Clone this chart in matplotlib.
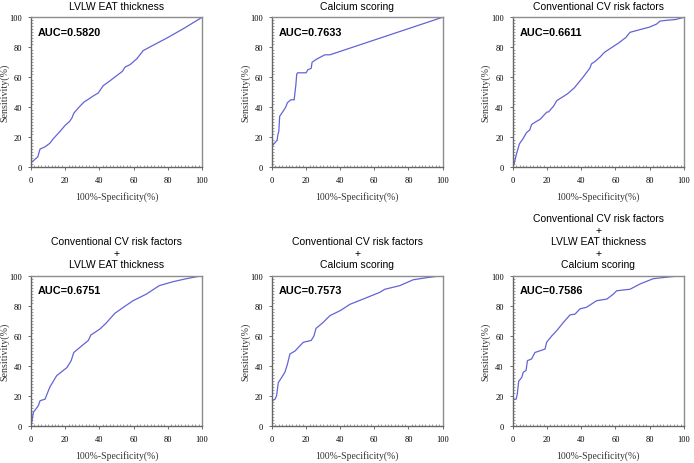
import matplotlib
matplotlib.use("Agg")
import matplotlib.pyplot as plt
from matplotlib.ticker import MultipleLocator

titles = [
    "LVLW EAT thickness",
    "Calcium scoring",
    "Conventional CV risk factors",
    "Conventional CV risk factors\n+\nLVLW EAT thickness",
    "Conventional CV risk factors\n+\nCalcium scoring",
    "Conventional CV risk factors\n+\nLVLW EAT thickness\n+\nCalcium scoring",
]
auc_labels = ["AUC=0.5820", "AUC=0.7633", "AUC=0.6611", "AUC=0.6751", "AUC=0.7573", "AUC=0.7586"]

fpr_1 = [0, 0, 2, 4, 5.3, 8, 11, 13, 17, 20, 22.5, 24, 25, 28, 31, 34.4, 37, 39.3, 42.2, 46, 50, 53.5, 54.9, 58, 62, 65.6, 70, 80, 90, 100]
tpr_1 = [0, 3, 5, 7, 12.2, 13.5, 16, 19, 24, 28, 30.5, 33, 36, 40, 43.5, 46, 48, 49.5, 54.4, 57.5, 61, 64, 66.7, 68.5, 72.5, 77.8, 80.5, 86.5, 93, 100]

fpr_2 = [0, 0, 1, 3, 3.5, 4, 4.5, 6, 8, 9, 11, 13, 13.5, 14, 14.5, 15, 20, 21, 23, 23.5, 26, 31, 34, 100]
tpr_2 = [0, 14, 15.5, 18, 22, 24, 34, 36.5, 40, 43, 45, 45, 50, 55, 62, 63, 63, 65, 66, 70, 72, 75, 75, 100]

fpr_3 = [0, 1, 2, 3.9, 6, 8, 10, 11, 13, 16, 19.8, 21, 24, 25.7, 32, 36, 41, 43, 45, 46, 48, 51, 53, 54, 58, 62, 66, 68.5, 75, 80, 84, 86, 90, 95, 100]
tpr_3 = [0, 3, 8, 15.6, 19, 23, 25, 28.5, 30, 32, 36.7, 37, 41, 44.4, 49, 53, 60, 63, 66, 69, 70.5, 73.5, 76, 77, 80, 83, 86.5, 90, 92, 93.5, 95.5, 97.5, 98, 98.5, 100]

fpr_4 = [0, 0.4, 1.4, 4.3, 5.3, 8.2, 11, 15, 21, 23.5, 25, 28.6, 33.5, 35, 40.3, 44, 49, 54, 59.7, 67.5, 75, 83, 90.8, 100]
tpr_4 = [0, 2.6, 9.3, 13.7, 17, 18, 26, 33.6, 39, 43.6, 49, 52.4, 57, 60.6, 64.6, 68.6, 75, 79, 83.4, 87.8, 93.4, 96, 98, 100]

fpr_5 = [0, 0.2, 1.8, 2.7, 3.7, 5.7, 7.6, 9, 10.5, 13.5, 16.4, 18.4, 23, 24.6, 25.8, 30, 34, 40, 45.7, 53.5, 63.3, 66.2, 75, 82.8, 92.6, 100]
tpr_5 = [0, 17, 18, 20.4, 29, 32.5, 36, 41, 48, 50, 53.5, 55.8, 57, 60, 65, 69, 73.5, 76.8, 81, 84.5, 89, 91, 93.4, 97.3, 99, 100]

fpr_6 = [0, 0.4, 2, 2.7, 3.5, 5.3, 6.2, 7.8, 8.6, 11, 13, 18.9, 19.8, 22.8, 25.7, 29.6, 33.5, 36.4, 39.3, 43, 49, 55, 58.8, 60.7, 68.5, 74.3, 82, 92, 100]
tpr_6 = [0, 18, 18, 21.5, 30, 32.5, 36, 37, 43.6, 44.7, 49, 51.3, 55.8, 60, 63.5, 69, 74, 74.5, 78, 79, 83.4, 84.5, 87.8, 90, 91, 94.5, 98, 99.3, 100]

fprs = [fpr_1, fpr_2, fpr_3, fpr_4, fpr_5, fpr_6]
tprs = [tpr_1, tpr_2, tpr_3, tpr_4, tpr_5, tpr_6]

W, H = 694, 464
fig = plt.figure(figsize=(W / 100, H / 100), dpi=100)

col_left = [31, 272, 512.7]
col_w = [171, 170.5, 171.3]
row_top = [18.3, 276.7]
row_h = [150, 150.6]

serif = ["Liberation Serif", "DejaVu Serif"]
sans = ["Liberation Sans", "DejaVu Sans"]
line_color = "#6363d6"
spine_color = "#8c8c8c"

for i in range(6):
    r, c = divmod(i, 3)
    left = col_left[c] / W
    bottom = 1 - (row_top[r] + row_h[r]) / H
    ax = fig.add_axes([left, bottom, col_w[c] / W, row_h[r] / H])
    ax.plot(fprs[i], tprs[i], color=line_color, lw=0.9)
    ax.set_xlim(0, 100)
    ax.set_ylim(0, 100)
    ax.xaxis.set_major_locator(MultipleLocator(20))
    ax.yaxis.set_major_locator(MultipleLocator(20))
    ax.xaxis.set_minor_locator(MultipleLocator(2))
    ax.yaxis.set_minor_locator(MultipleLocator(2))
    ax.tick_params(which="major", direction="out", length=2.5, width=0.6,
                   color="#555555", pad=4, labelsize=6)
    ax.tick_params(which="minor", direction="in", length=1.5, width=0.5, color="#777777")
    for lab in ax.get_xticklabels() + ax.get_yticklabels():
        lab.set_fontfamily(serif)
    for s in ax.spines.values():
        s.set_color(spine_color)
        s.set_linewidth(1.0)
    ax.spines["left"].set_color("#666666")
    ax.spines["bottom"].set_color("#666666")
    ax.set_ylabel("Sensitivity(%)", family=serif, fontsize=7.2, color="#333333")
    ax.yaxis.set_label_coords(-22 / col_w[c], 0.5)
    ax.set_xlabel("100%-Specificity(%)", family=serif, fontsize=7, labelpad=5, color="#333333")
    ax.set_title(titles[i], family=sans, fontsize=7.5, pad=6, linespacing=1.2)
    ax.text(0.04, 0.935, auc_labels[i], transform=ax.transAxes, family=sans,
            fontsize=7.8, fontweight="bold", ha="left", va="top")

fig.savefig("out.png", dpi=100)
